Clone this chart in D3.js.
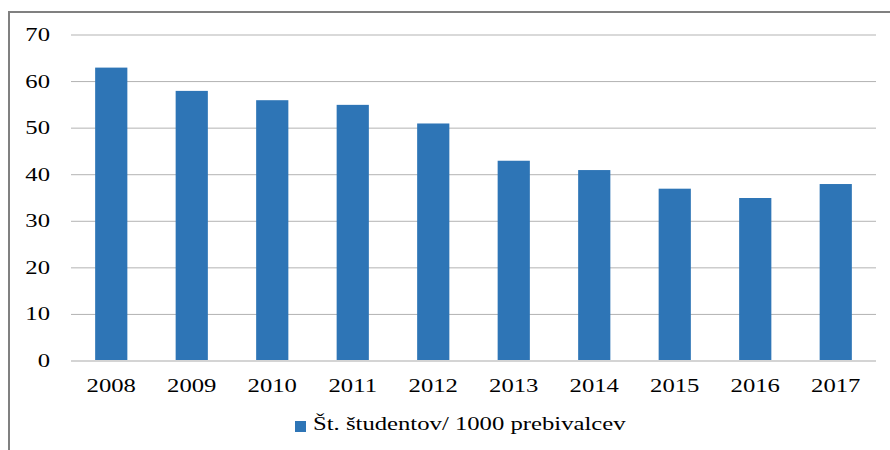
<!DOCTYPE html>
<html><head><meta charset="utf-8">
<script src="https://cdn.jsdelivr.net/npm/d3@7"></script>
<style>body{margin:0;background:#fff}svg{display:block}</style>
</head><body><svg id="c" width="890" height="450"></svg>
<script>
const categories = ["2008","2009","2010","2011","2012","2013","2014","2015","2016","2017"];
const values = [63, 58, 56, 55, 51, 43, 41, 37, 35, 38];
const yTicks = [0,10,20,30,40,50,60,70];
const seriesName = "Št. študentov/ 1000 prebivalcev";

const svg = d3.select("#c");
const font = "'Liberation Serif','Times New Roman',serif";
const sx = 1.3;

// frame
svg.append("path").attr("d","M9,450 V12 H890").attr("fill","none").attr("stroke","#808080").attr("stroke-width",2);

const x = d3.scaleBand().domain(categories).range([71,876]).paddingInner(0.6).paddingOuter(0.3);
const y = d3.scaleLinear().domain([0,70]).range([361,35]);

// gridlines
svg.append("g").selectAll("line").data(yTicks.filter(d=>d>0)).join("line")
  .attr("x1",71).attr("x2",876).attr("y1",d=>y(d)).attr("y2",d=>y(d))
  .attr("stroke","#b3b3b3").attr("stroke-width",1);

// bars
svg.append("g").selectAll("rect").data(values).join("rect")
  .attr("x",(d,i)=>x(categories[i])).attr("width",x.bandwidth())
  .attr("y",d=>y(d)).attr("height",d=>y(0)-y(d)).attr("fill","#2E75B6");

// zero axis
svg.append("line").attr("x1",71).attr("x2",876).attr("y1",y(0)).attr("y2",y(0))
  .attr("stroke","#d4d4d4").attr("stroke-width",2);

// y labels
svg.append("g").selectAll("text").data(yTicks).join("text")
  .attr("transform",d=>`translate(50,${y(d)+6}) scale(${sx},1)`)
  .attr("text-anchor","end").attr("font-family",font).attr("font-size",19).attr("fill","#000")
  .text(d=>d);

// x labels
svg.append("g").selectAll("text").data(categories).join("text")
  .attr("transform",d=>`translate(${x(d)+x.bandwidth()/2},392) scale(${sx},1)`)
  .attr("text-anchor","middle").attr("font-family",font).attr("font-size",19).attr("fill","#000")
  .text(d=>d);

// legend
svg.append("rect").attr("x",295).attr("y",421).attr("width",11).attr("height",11).attr("fill","#2E75B6");
svg.append("text").attr("transform",`translate(313,430) scale(${sx},1)`)
  .attr("font-family",font).attr("font-size",19).attr("fill","#000").text(seriesName);
</script></body></html>
